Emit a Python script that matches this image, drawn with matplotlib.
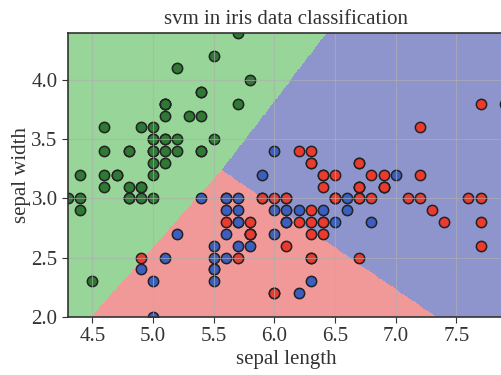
import matplotlib
matplotlib.use("Agg")
import matplotlib.pyplot as plt
import numpy as np
from matplotlib.colors import ListedColormap

setosa_len = [5.1, 4.9, 4.7, 4.6, 5.0, 5.4, 4.6, 5.0, 4.4, 4.9, 5.4, 4.8, 4.8, 4.3, 5.8, 5.7, 5.4,
              5.1, 5.7, 5.1, 5.4, 5.1, 4.6, 5.1, 4.8, 5.0, 5.0, 5.2, 5.2, 4.7, 4.8, 5.4, 5.2, 5.5,
              4.9, 5.0, 5.5, 4.9, 4.4, 5.1, 5.0, 4.5, 4.4, 5.0, 5.1, 4.8, 5.1, 4.6, 5.3, 5.0]
setosa_wid = [3.5, 3.0, 3.2, 3.1, 3.6, 3.9, 3.4, 3.4, 2.9, 3.1, 3.7, 3.4, 3.0, 3.0, 4.0, 4.4, 3.9,
              3.5, 3.8, 3.8, 3.4, 3.7, 3.6, 3.3, 3.4, 3.0, 3.4, 3.5, 3.4, 3.2, 3.1, 3.4, 4.1, 4.2,
              3.1, 3.2, 3.5, 3.6, 3.0, 3.4, 3.5, 2.3, 3.2, 3.5, 3.8, 3.0, 3.8, 3.2, 3.7, 3.3]
versicolor_len = [7.0, 6.4, 6.9, 5.5, 6.5, 5.7, 6.3, 4.9, 6.6, 5.2, 5.0, 5.9, 6.0, 6.1, 5.6, 6.7, 5.6,
                  5.8, 6.2, 5.6, 5.9, 6.1, 6.3, 6.1, 6.4, 6.6, 6.8, 6.7, 6.0, 5.7, 5.5, 5.5, 5.8, 6.0,
                  5.4, 6.0, 6.7, 6.3, 5.6, 5.5, 5.5, 6.1, 5.8, 5.0, 5.6, 5.7, 5.7, 6.2, 5.1, 5.7]
versicolor_wid = [3.2, 3.2, 3.1, 2.3, 2.8, 2.8, 3.3, 2.4, 2.9, 2.7, 2.0, 3.0, 2.2, 2.9, 2.9, 3.1, 3.0,
                  2.7, 2.2, 2.5, 3.2, 2.8, 2.5, 2.8, 2.9, 3.0, 2.8, 3.0, 2.9, 2.6, 2.4, 2.4, 2.7, 2.7,
                  3.0, 3.4, 3.1, 2.3, 3.0, 2.5, 2.6, 3.0, 2.6, 2.3, 2.7, 3.0, 2.9, 2.9, 2.5, 2.8]
virginica_len = [6.3, 5.8, 7.1, 6.3, 6.5, 7.6, 4.9, 7.3, 6.7, 7.2, 6.5, 6.4, 6.8, 5.7, 5.8, 6.4, 6.5,
                 7.7, 7.7, 6.0, 6.9, 5.6, 7.7, 6.3, 6.7, 7.2, 6.2, 6.1, 6.4, 7.2, 7.4, 7.9, 6.4, 6.3,
                 6.1, 7.7, 6.3, 6.4, 6.0, 6.9, 6.7, 6.9, 5.8, 6.8, 6.7, 6.7, 6.3, 6.5, 6.2, 5.9]
virginica_wid = [3.3, 2.7, 3.0, 2.9, 3.0, 3.0, 2.5, 2.9, 2.5, 3.6, 3.2, 2.7, 3.0, 2.5, 2.8, 3.2, 3.0,
                 3.8, 2.6, 2.2, 3.2, 2.8, 2.8, 2.7, 3.3, 3.2, 2.8, 3.0, 2.8, 3.0, 2.8, 3.8, 2.8, 2.8,
                 2.6, 3.0, 3.4, 3.1, 3.0, 3.1, 3.1, 3.1, 2.7, 3.2, 3.3, 3.0, 2.5, 3.0, 3.4, 3.0]

# decision regions: three straight boundaries meeting at one point
boundary_center = (5.567, 3.24)
green_red_end = (4.492, 2.0)
red_blue_end = (7.333, 2.0)
green_blue_end = (6.432, 4.4)

region_colors = ["#97d598", "#f19899", "#8e95cc"]   # setosa, versicolor, virginica areas
point_colors = {"setosa": "#2e7a34", "versicolor": "#3a5fc0", "virginica": "#ec3a2e"}

plt.rcParams["font.family"] = ["Liberation Serif", "DejaVu Serif"]

all_len = np.array(setosa_len + versicolor_len + virginica_len)
all_wid = np.array(setosa_wid + versicolor_wid + virginica_wid)
x_min, x_max = all_len.min(), all_len.max()
y_min, y_max = all_wid.min(), all_wid.max()

gx, gy = np.meshgrid(np.linspace(x_min, x_max, 400), np.linspace(y_min, y_max, 400))
cx, cy = boundary_center
ang = np.arctan2(gy - cy, gx - cx)
a_gr = np.arctan2(green_red_end[1] - cy, green_red_end[0] - cx)
a_rb = np.arctan2(red_blue_end[1] - cy, red_blue_end[0] - cx)
a_gb = np.arctan2(green_blue_end[1] - cy, green_blue_end[0] - cx)
labels = np.zeros_like(gx, dtype=int)
labels[(ang > a_gr) & (ang <= a_rb)] = 1
labels[(ang > a_rb) & (ang <= a_gb)] = 2

fig = plt.figure(figsize=(5.01, 3.75), dpi=100)
ax = fig.add_axes([0.1357, 0.1555, 0.872, 0.757])
ax.pcolormesh(gx, gy, labels, cmap=ListedColormap(region_colors), shading="auto")

for name, xs, ys in [("setosa", setosa_len, setosa_wid),
                     ("versicolor", versicolor_len, versicolor_wid),
                     ("virginica", virginica_len, virginica_wid)]:
    ax.scatter(xs, ys, s=55, c=point_colors[name], edgecolors="#222222", linewidths=1.1)

ax.set_xlim(x_min, x_max)
ax.set_ylim(y_min, y_max)
ax.set_xticks(np.arange(4.5, 8.0, 0.5))
ax.set_yticks(np.arange(2.0, 4.5, 0.5))
ax.tick_params(labelsize=15, colors="#333333", length=4)
ax.set_xlabel("sepal length", fontsize=15, color="#333333", labelpad=3)
ax.set_ylabel("sepal width", fontsize=15, color="#333333", labelpad=0)
ax.set_title("svm in iris data classification", fontsize=15, color="#333333", pad=6)
ax.grid(True, color="#b0b0b0", alpha=0.6, linewidth=0.8)
for sp in ax.spines.values():
    sp.set_color("#333333")
    sp.set_linewidth(1.2)

fig.savefig("out.png", dpi=100)
